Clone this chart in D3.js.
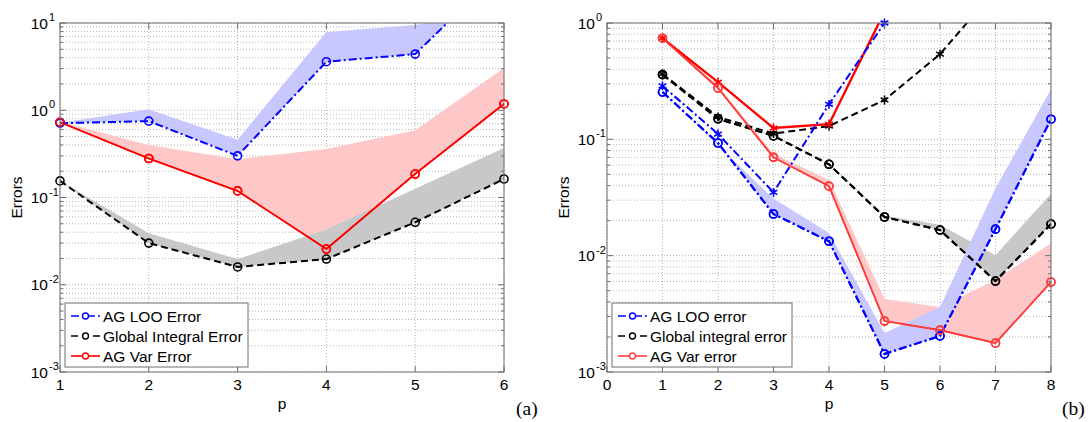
<!DOCTYPE html>
<html>
<head>
<meta charset="utf-8">
<script src="https://cdn.jsdelivr.net/npm/d3@7"></script>
<style>
  body { margin: 0; background: #fff; }
  svg { display: block; font-family: "Liberation Sans", Arial, sans-serif; }
</style>
</head>
<body>
<div id="chart"></div>
<script>
// ---- panel (a) data ----
const pA = [1, 2, 3, 4, 5, 6];
const looA = [0.71, 0.75, 0.30, 3.6, 4.4, 43];
const looAHi = [0.72, 1.03, 0.46, 7.9, 9.5, 14];
const globA = [0.155, 0.030, 0.016, 0.0197, 0.052, 0.163];
const globAHi = [0.156, 0.039, 0.0197, 0.043, 0.126, 0.37];
const varA = [0.73, 0.28, 0.119, 0.0257, 0.186, 1.18];
const varAHi = [0.74, 0.40, 0.275, 0.36, 0.59, 3.05];

// ---- panel (b) data ----
const pB = [1, 2, 3, 4, 5, 6, 7, 8];
const looB = [0.255, 0.093, 0.0228, 0.0133, 0.00143, 0.00204, 0.0169, 0.149];
const looBHi = [0.262, 0.088, 0.031, 0.0157, 0.00216, 0.00362, 0.038, 0.27];
const globB = [0.36, 0.15, 0.107, 0.061, 0.0215, 0.0166, 0.00605, 0.0187];
const globBHi = [0.365, 0.152, 0.109, 0.062, 0.022, 0.0184, 0.0101, 0.034];
const varB = [0.74, 0.276, 0.070, 0.0396, 0.00274, 0.00229, 0.00177, 0.00593];
const varBHi = [0.75, 0.29, 0.075, 0.045, 0.00424, 0.00362, 0.00617, 0.0128];
const pStarLoo = [1, 2, 3, 4, 5];
const looStarB = [0.288, 0.111, 0.035, 0.20, 1.0];
const pStarGlob = [1, 2, 3, 4, 5, 6, 7];
const globStarB = [0.365, 0.156, 0.112, 0.13, 0.218, 0.54, 1.93];
const pStarVar = [1, 2, 3, 4, 5];
const varStarB = [0.74, 0.31, 0.125, 0.135, 1.25];

const legendA = ["AG LOO Error", "Global Integral Error", "AG Var Error"];
const legendB = ["AG LOO error", "Global integral error", "AG Var error"];

const BLUE = "#0000ff", BLACK = "#000", RED = "#ff0000";
const DASHDOT = "8,3,2,3", DASHED = "7,4";

const plotTop = 23, plotBottom = 372;

const svg = d3.select("#chart").append("svg")
    .attr("width", 1092)
    .attr("height", 422);

function drawPanel(o) {
    const x = d3.scaleLinear().domain(o.xDomain).range([o.left, o.right]);
    const y = d3.scaleLog().domain(o.yDomain).range([plotBottom, plotTop]);
    const g = svg.append("g");

    g.append("clipPath").attr("id", "clip" + o.id)
        .append("rect")
        .attr("x", o.left).attr("y", plotTop)
        .attr("width", o.right - o.left).attr("height", plotBottom - plotTop);

    const lo = Math.round(Math.log10(o.yDomain[0]));
    const hi = Math.round(Math.log10(o.yDomain[1]));
    const majors = d3.range(lo, hi + 1).map(e => Math.pow(10, e));
    const minors = [];
    for (let e = lo; e < hi; e++) {
        for (let k = 2; k <= 9; k++) minors.push(k * Math.pow(10, e));
    }

    // grid
    g.append("g").selectAll("line")
        .data(majors.concat(minors))
        .join("line")
        .attr("x1", o.left).attr("x2", o.right)
        .attr("y1", d => y(d)).attr("y2", d => y(d))
        .attr("stroke", "#b4b4b4")
        .attr("stroke-width", 1)
        .attr("stroke-dasharray", "1,2");
    g.append("g").selectAll("line")
        .data(o.xTicks)
        .join("line")
        .attr("x1", d => x(d)).attr("x2", d => x(d))
        .attr("y1", plotTop).attr("y2", plotBottom)
        .attr("stroke", "#b4b4b4")
        .attr("stroke-width", 1)
        .attr("stroke-dasharray", "1,2");

    const plot = g.append("g").attr("clip-path", `url(#clip${o.id})`);

    // bands
    o.series.filter(s => s.hi).forEach(s => {
        const area = d3.area()
            .x(i => x(s.xs[i]))
            .y0(i => y(s.ys[i]))
            .y1(i => y(s.hi[i]));
        plot.append("path")
            .attr("d", area(d3.range(s.xs.length)))
            .attr("fill", s.band)
            .attr("stroke", "none");
    });

    // lines
    o.series.forEach(s => {
        const line = d3.line().x(i => x(s.xs[i])).y(i => y(s.ys[i]));
        plot.append("path")
            .attr("d", line(d3.range(s.xs.length)))
            .attr("fill", "none")
            .attr("stroke", s.color)
            .attr("stroke-width", s.width)
            .attr("stroke-dasharray", s.dash || null);
    });

    // markers
    o.series.forEach(s => {
        const pts = d3.range(s.xs.length).filter(i => s.ys[i] <= o.yDomain[1] * 1.001);
        if (s.marker === "o") {
            g.append("g").selectAll("circle")
                .data(pts)
                .join("circle")
                .attr("cx", i => x(s.xs[i]))
                .attr("cy", i => y(s.ys[i]))
                .attr("r", 4)
                .attr("fill", "none")
                .attr("stroke", s.color)
                .attr("stroke-width", 1.6);
        } else {
            const sym = d3.symbol(d3.symbolAsterisk).size(55);
            g.append("g").selectAll("path")
                .data(pts)
                .join("path")
                .attr("transform", i => `translate(${x(s.xs[i])},${y(s.ys[i])})`)
                .attr("d", sym())
                .attr("fill", "none")
                .attr("stroke", s.color)
                .attr("stroke-width", 1.6);
        }
    });

    // frame
    g.append("rect")
        .attr("x", o.left).attr("y", plotTop)
        .attr("width", o.right - o.left).attr("height", plotBottom - plotTop)
        .attr("fill", "none")
        .attr("stroke", "#6e6e6e")
        .attr("stroke-width", 1);

    // ticks (inward, both sides)
    const tickData = majors.map(v => ({ v, len: 6 })).concat(minors.map(v => ({ v, len: 3 })));
    [[o.left, 1], [o.right, -1]].forEach(([x0, dir]) => {
        g.append("g").selectAll("line")
            .data(tickData)
            .join("line")
            .attr("x1", x0).attr("x2", d => x0 + dir * d.len)
            .attr("y1", d => y(d.v)).attr("y2", d => y(d.v))
            .attr("stroke", "#6e6e6e");
    });
    [[plotBottom, -1], [plotTop, 1]].forEach(([y0, dir]) => {
        g.append("g").selectAll("line")
            .data(o.xTicks)
            .join("line")
            .attr("x1", d => x(d)).attr("x2", d => x(d))
            .attr("y1", y0).attr("y2", y0 + dir * 6)
            .attr("stroke", "#6e6e6e");
    });

    // y tick labels 10^k
    const yl = g.append("g").selectAll("g")
        .data(majors)
        .join("g")
        .attr("transform", d => `translate(${o.left - 12},${y(d)})`);
    yl.append("text")
        .attr("text-anchor", "end")
        .attr("y", 5.5)
        .attr("font-size", 15.5)
        .text("10");
    yl.append("text")
        .attr("x", 1)
        .attr("y", -2)
        .attr("font-size", 11)
        .text(d => Math.round(Math.log10(d)));

    // x tick labels
    g.append("g").selectAll("text")
        .data(o.xTicks)
        .join("text")
        .attr("x", d => x(d))
        .attr("y", 390)
        .attr("text-anchor", "middle")
        .attr("font-size", 15.5)
        .text(d => d);

    // axis titles
    g.append("text")
        .attr("x", (o.left + o.right) / 2)
        .attr("y", 409)
        .attr("text-anchor", "middle")
        .attr("font-size", 15.5)
        .text("p");
    g.append("text")
        .attr("transform", `translate(${o.ylabelX},${(plotTop + plotBottom) / 2}) rotate(-90)`)
        .attr("text-anchor", "middle")
        .attr("font-size", 15.5)
        .text("Errors");
    g.append("text")
        .attr("x", o.tagX)
        .attr("y", 415)
        .attr("font-family", "'Liberation Serif', 'DejaVu Serif', serif")
        .attr("font-size", 19.5)
        .text(o.tag);

    // legend
    const L = o.legend;
    const lg = g.append("g").attr("transform", `translate(${L.x},${L.y})`);
    lg.append("rect")
        .attr("width", L.w).attr("height", 64)
        .attr("fill", "#fff")
        .attr("stroke", "#6e6e6e");
    const items = o.series.filter(s => s.label);
    items.forEach((s, i) => {
        const yy = 13 + i * 20;
        lg.append("line")
            .attr("x1", 6).attr("x2", 35)
            .attr("y1", yy).attr("y2", yy)
            .attr("stroke", s.color)
            .attr("stroke-width", 1.6)
            .attr("stroke-dasharray", s.dash || null);
        lg.append("circle")
            .attr("cx", 20.5).attr("cy", yy).attr("r", 3)
            .attr("fill", "#fff")
            .attr("stroke", s.color)
            .attr("stroke-width", 1.4);
        lg.append("text")
            .attr("x", 38).attr("y", yy + 5.5)
            .attr("font-size", 15.5)
            .text(s.label);
    });
}

drawPanel({
    id: "a", left: 60, right: 504,
    xDomain: [1, 6], yDomain: [1e-3, 1e1], xTicks: pA,
    ylabelX: 22, tagX: 516, tag: "(a)",
    legend: { x: 65, y: 303, w: 183 },
    series: [
        { xs: pA, ys: varA, hi: varAHi, band: "#ffc8c8", color: RED, width: 1.6, marker: "o" },
        { xs: pA, ys: looA, hi: looAHi, band: "#c8c8ff", color: BLUE, width: 2, dash: DASHDOT, marker: "o", label: legendA[0] },
        { xs: pA, ys: globA, hi: globAHi, band: "#c8c8c8", color: BLACK, width: 2, dash: DASHED, marker: "o", label: legendA[1] },
        { xs: pA, ys: varA, color: RED, width: 1.6, marker: "o", label: legendA[2] }
    ]
});

drawPanel({
    id: "b", left: 607, right: 1051,
    xDomain: [0, 8], yDomain: [1e-3, 1e0], xTicks: d3.range(0, 9),
    ylabelX: 569, tagX: 1062, tag: "(b)",
    legend: { x: 612, y: 303, w: 180 },
    series: [
        { xs: pB, ys: globB, hi: globBHi, band: "#c8c8c8", color: BLACK, width: 2, dash: DASHED, marker: "o" },
        { xs: pB, ys: varB, hi: varBHi, band: "#ffc8c8", color: "#ff3c3c", width: 1.6, marker: "o" },
        { xs: pB, ys: looB, hi: looBHi, band: "#c8c8ff", color: BLUE, width: 2, dash: DASHDOT, marker: "o" },
        { xs: pStarGlob, ys: globStarB, color: BLACK, width: 2, dash: DASHED, marker: "*" },
        { xs: pStarVar, ys: varStarB, color: RED, width: 2.4, marker: "*" },
        { xs: pStarLoo, ys: looStarB, color: BLUE, width: 2, dash: DASHDOT, marker: "*" },
        { xs: pB, ys: looB, color: BLUE, width: 2, dash: DASHDOT, marker: "o", label: legendB[0] },
        { xs: pB, ys: globB, color: BLACK, width: 2, dash: DASHED, marker: "o", label: legendB[1] },
        { xs: pB, ys: varB, color: "#ff3c3c", width: 1.6, marker: "o", label: legendB[2] }
    ]
});
</script>
</body>
</html>
